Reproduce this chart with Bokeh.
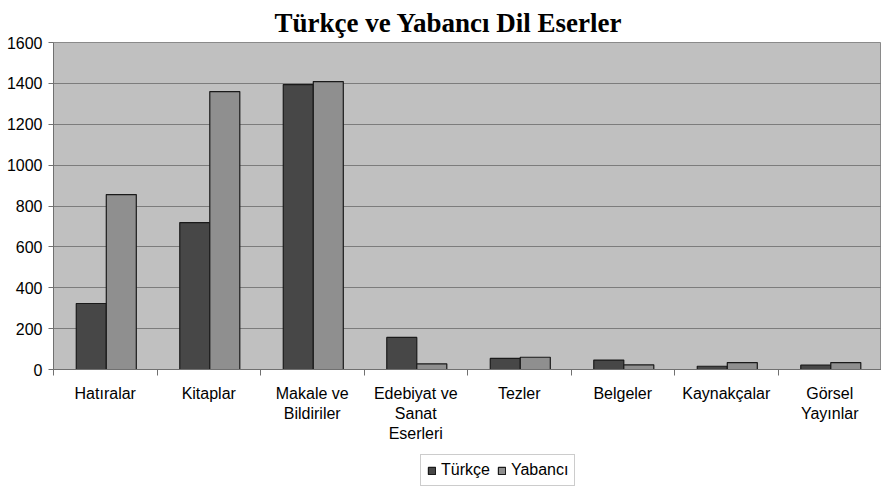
from bokeh.plotting import figure
from bokeh.layouts import column
from bokeh.models import (ColumnDataSource, Range1d, LinearAxis,
                          FixedTicker, Legend, LegendItem, Title)
from bokeh.transform import dodge
from bokeh.embed import file_html
from bokeh.resources import INLINE

categories = ["Hatıralar", "Kitaplar", "Makale ve\nBildiriler", "Edebiyat ve\nSanat\nEserleri",
              "Tezler", "Belgeler", "Kaynakçalar", "Görsel\nYayınlar"]
turkce = [323, 719, 1394, 157, 54, 46, 16, 21]
yabanci = [856, 1360, 1409, 28, 60, 23, 34, 34]
y_ticks = [0, 200, 400, 600, 800, 1000, 1200, 1400, 1600]

n = len(categories)
pos = [i + 0.5 for i in range(n)]
bounds = list(range(n + 1))
src = ColumnDataSource(dict(pos=pos, tr=turkce, yb=yabanci))

p = figure(frame_width=828, frame_height=327, x_range=Range1d(0, n),
           y_range=Range1d(0, 1600), output_backend="svg", toolbar_location=None,
           x_axis_location=None, y_axis_location=None,
           min_border_left=53, min_border_right=0, min_border_top=42, min_border_bottom=0)
p.background_fill_color = "#c0c0c0"
p.border_fill_color = "white"
p.outline_line_color = "#8a8a8a"
p.xgrid.grid_line_color = None
p.ygrid.grid_line_color = "#7c7c7c"
p.ygrid.ticker = FixedTicker(ticks=y_ticks)

p.title = Title(text="Türkçe ve Yabancı Dil Eserler", align="left", vertical_align="top",
                text_font="Liberation Serif", text_font_size="27px", text_font_style="bold",
                text_color="black", offset=221, standoff=6)

bar_style = dict(width=0.29, source=src, line_color="#1a1a1a", line_width=1.2)
r1 = p.vbar(x=dodge("pos", -0.135), top="tr", fill_color="#474747", **bar_style)
r2 = p.vbar(x=dodge("pos", 0.155), top="yb", fill_color="#8f8f8f", **bar_style)

# y axis
yax = LinearAxis(ticker=FixedTicker(ticks=y_ticks))
yax.axis_line_color = "#707070"
yax.major_tick_line_color = "#707070"
yax.major_tick_out = 5
yax.major_tick_in = 0
yax.minor_tick_line_color = None
yax.major_label_text_font = "Liberation Sans"
yax.major_label_text_font_size = "16px"
yax.major_label_text_color = "black"
yax.major_label_standoff = 6
p.add_layout(yax, "left")

# x axis: labels at category centres, minor ticks at category boundaries
xax = LinearAxis(ticker=FixedTicker(ticks=pos, minor_ticks=bounds),
                 major_label_overrides={pv: c for pv, c in zip(pos, categories)})
xax.axis_line_color = "#707070"
xax.major_tick_line_color = None
xax.major_tick_out = 0
xax.major_tick_in = 0
xax.minor_tick_line_color = "#707070"
xax.minor_tick_out = 6
xax.minor_tick_in = 0
xax.major_label_text_font = "Liberation Sans"
xax.major_label_text_font_size = "16px"
xax.major_label_text_color = "black"
xax.major_label_standoff = 9
xax.major_label_text_line_height = 1.2
p.add_layout(xax, "below")

# legend strip below the chart
q = figure(width=881, height=44, x_range=Range1d(0, n), y_range=Range1d(2000, 3000),
           output_backend="svg", toolbar_location=None,
           x_axis_location=None, y_axis_location=None,
           min_border_left=0, min_border_right=0, min_border_top=0, min_border_bottom=0)
q.outline_line_color = None
q.background_fill_color = "white"
q.border_fill_color = "white"
q.xgrid.grid_line_color = None
q.ygrid.grid_line_color = None
l1 = q.vbar(x=dodge("pos", -0.135), top="tr", fill_color="#474747", **bar_style)
l2 = q.vbar(x=dodge("pos", 0.155), top="yb", fill_color="#8f8f8f", **bar_style)

legend = Legend(items=[LegendItem(label="Türkçe", renderers=[l1]),
                       LegendItem(label="Yabancı", renderers=[l2])],
                orientation="horizontal", location=(367, 3),
                label_text_font="Liberation Sans", label_text_font_size="16px",
                label_text_color="black", glyph_width=9, glyph_height=9,
                spacing=7, label_standoff=5, padding=6, margin=0,
                border_line_color="#9a9a9a", background_fill_color="white")
q.add_layout(legend)

open("out.html", "w").write(file_html(column(p, q, spacing=0), INLINE))
